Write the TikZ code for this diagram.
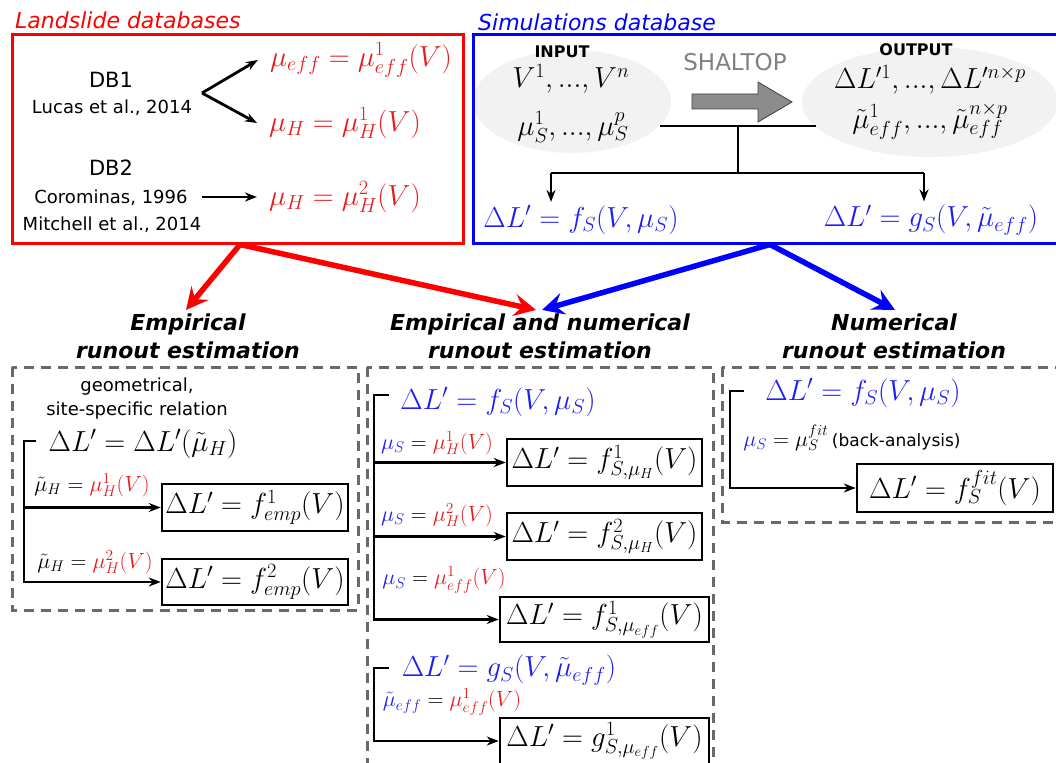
\RequirePackage{fix-cm}
\documentclass[tikz,border=0pt]{standalone}
\usepackage{fontspec}
\newfontfamily\dv{DejaVu Sans}
\usetikzlibrary{arrows.meta}
\definecolor{tred}{RGB}{235,25,25}
\definecolor{tblue}{RGB}{30,30,245}
\definecolor{dgray}{RGB}{105,105,105}
\definecolor{egray}{RGB}{242,242,242}
\definecolor{agray}{RGB}{140,140,140}
\definecolor{sgray}{RGB}{128,128,128}
\begin{document}
\begin{tikzpicture}[x=1pt,y=-1pt,
  sans/.style={font=\dv\fontsize{18}{24}\selectfont},
  dbname/.style={font=\dv\fontsize{21}{24}\selectfont},
  caps/.style={font=\dv\bfseries\fontsize{16}{18}\selectfont},
  head/.style={font=\dv\bfseries\itshape\fontsize{22}{28}\selectfont, align=center},
  title/.style={font=\dv\itshape\fontsize{22}{26}\selectfont, anchor=base west, inner sep=0pt},
  big/.style={font=\fontsize{29}{32}\selectfont},
  small/.style={font=\fontsize{22}{26}\selectfont},
  eqbox/.style={draw, line width=2.5pt, big, inner sep=0pt},
  conn/.style={line width=2.8pt, -{Stealth[length=12pt,width=9pt]}},
  brack/.style={line width=2.8pt},
  fat/.style={line width=5.5pt, -{Stealth[length=22pt,width=22pt,inset=8pt]}},
  dbox/.style={draw=dgray, line width=3pt, dash pattern=on 10pt off 7pt},
]
\useasboundingbox (0,0) rectangle (1056,762);

% ---------- grey ellipses ----------
\fill[egray] (572,101.5) ellipse [x radius=99, y radius=51.5];
\fill[egray] (930,102) ellipse [x radius=128, y radius=55];

% ---------- database frames ----------
\node[draw=red, line width=3pt, minimum width=451pt, minimum height=208pt, inner sep=0pt] (ldb) at (237.5,139) {};
\node[draw=blue, line width=3pt, minimum width=590pt, minimum height=208pt, inner sep=0pt] (sdb) at (768,139) {};
\node[title, text=red] (ltitle) at (15,29) {Landslide databases};
\node[title, text=blue] (stitle) at (478,31) {Simulations database};

% ---------- landslide database content ----------
\node[dbname, inner sep=1pt] (db1) at (111,80) {DB1};
\node[sans, inner sep=1pt] (lucas) at (112,108) {Lucas et al., 2014};
\node[dbname, inner sep=1pt] (db2) at (111,168) {DB2};
\node[sans, inner sep=1pt] (coro) at (111,198) {Corominas, 1996};
\node[sans, inner sep=1pt] (mitch) at (112,225) {Mitchell et al., 2014};
\node[big, text=tred, inner xsep=12pt, inner ysep=1pt] (mueff) at (361,60) {$\mu_{eff}=\mu^1_{eff}(V)$};
\node[big, text=tred, inner xsep=12pt, inner ysep=1pt] (muh1) at (345,123) {$\mu_H=\mu^1_H(V)$};
\node[big, text=tred, inner xsep=12pt, inner ysep=1pt] (muh2) at (345,197) {$\mu_H=\mu^2_H(V)$};
\coordinate (fork) at (202,93);
\coordinate (corostart) at (202,197);
\draw[conn] (fork) -- (mueff.west);
\draw[conn] (fork) -- (muh1.west);
\draw[conn] (corostart) -- (muh2.west);

% ---------- simulation database content ----------
\node[caps, inner sep=1pt] (inp) at (562,52) {INPUT};
\node[big, inner sep=1pt] (vin) at (571,79) {$V^1,...,V^n$};
\node[big, inner sep=1pt] (muin) at (573,127) {$\mu^1_S,...,\mu^p_S$};
\node[font=\dv\fontsize{23}{26}\selectfont, text=sgray] (shaltop) at (735,62) {SHALTOP};
\draw[fill=agray, draw=black!75, line width=0.8pt] (692,94) -- (758,94) -- (758,82) -- (792,102) -- (758,122) -- (758,109) -- (692,109) -- cycle;
\node[caps, inner sep=1pt] (outp) at (916,50) {OUTPUT};
\node[big, inner sep=1pt] (dlout) at (930,80) {$\Delta L^{\prime 1},...,\Delta L^{\prime n\times p}$};
\node[big, inner sep=1pt] (muout) at (930,121) {$\tilde\mu^1_{eff},...,\tilde\mu^{n\times p}_{eff}$};
\node[big, text=tblue] (fst) at (581,220) {$\Delta L'=f_S(V,\mu_S)$};
\node[big, text=tblue] (gst) at (931,220) {$\Delta L'=g_S(V,\tilde\mu_{eff})$};
\coordinate (hl) at (660,126);
\coordinate (hr) at (816,126);
\coordinate (jn) at (738,126);
\coordinate (jb) at (738,173);
\coordinate (la) at (551,173);
\coordinate (ra) at (924,173);
\draw[brack] (hl) -- (hr);
\draw[brack] (jn) -- (jb);
\draw[brack] (la) -- (ra);
\draw[conn] (la) -- (la |- fst.north);
\draw[conn] (ra) -- (ra |- gst.north);

% ---------- headings ----------
\node[head] (h1) at (188,336) {Empirical\\runout estimation};
\node[head] (h2) at (540,336) {Empirical and numerical\\runout estimation};
\node[head] (h3) at (894,336) {Numerical\\runout estimation};
\draw[fat, red] ([xshift=2.5pt]ldb.south) -- ([xshift=-2pt]h1.north);
\draw[fat, red] ([xshift=2.5pt]ldb.south) -- ([xshift=-4pt]h2.north);
\draw[fat, blue] ([xshift=2pt]sdb.south) -- ([xshift=2pt]h2.north);
\draw[fat, blue] ([xshift=2pt]sdb.south) -- ([xshift=1pt]h3.north);

% ---------- dashed frames ----------
\draw[dbox] (12,367) rectangle (358,610);
\draw[dbox] (367,367) rectangle (713,780);
\draw[dbox] (722,367) rectangle (1070,522);

% ---------- empirical ----------
\node[sans, align=center, inner sep=1pt] (geo) at (137,399) {geometrical,\\site-specific relation};
\node[big, inner sep=1pt] (dlh) at (143,444) {$\Delta L'=\Delta L'(\tilde\mu_H)$};
\node[eqbox, minimum width=186pt, minimum height=47pt] (e1) at (255,507.5) {$\Delta L'=f^1_{emp}(V)$};
\node[eqbox, minimum width=186pt, minimum height=46pt] (e2) at (255,582) {$\Delta L'=f^2_{emp}(V)$};
\node[small, inner sep=1pt] (el1) at (92,485) {$\tilde\mu_H={\color{tred}\mu^1_H(V)}$};
\node[small, inner sep=1pt] (el2) at (95,562) {$\tilde\mu_H={\color{tred}\mu^2_H(V)}$};
\coordinate (et) at (36,441);
\coordinate (ec) at (24,441);
\draw[conn] (et) -- (ec) |- (e2.west);
\draw[conn] (ec |- e1.west) -- (e1.west);

% ---------- empirical and numerical ----------
\node[big, text=tblue, inner sep=1pt] (mfs) at (498,402) {$\Delta L'=f_S(V,\mu_S)$};
\node[eqbox, minimum width=195pt, minimum height=47pt] (m1) at (604.5,462.5) {$\Delta L'=f^1_{S,\mu_H}(V)$};
\node[eqbox, minimum width=195pt, minimum height=47pt] (m2) at (604.5,536.5) {$\Delta L'=f^2_{S,\mu_H}(V)$};
\node[eqbox, minimum width=209pt, minimum height=45pt] (m3) at (604.5,619.5) {$\Delta L'=f^1_{S,\mu_{eff}}(V)$};
\node[small, inner sep=1pt] (ml1) at (437,443) {${\color{tblue}\mu_S}={\color{tred}\mu^1_H(V)}$};
\node[small, inner sep=1pt] (ml2) at (437,515) {${\color{tblue}\mu_S}={\color{tred}\mu^2_H(V)}$};
\node[small, inner sep=1pt] (ml3) at (444,580) {${\color{tblue}\mu_S}={\color{tred}\mu^1_{eff}(V)}$};
\coordinate (mt) at (389,395);
\coordinate (mc) at (374,395);
\draw[conn] (mt) -- (mc) |- (m3.west);
\draw[conn] (mc |- m1.west) -- (m1.west);
\draw[conn] (mc |- m2.west) -- (m2.west);

\node[big, text=tblue, inner sep=1pt] (mgs) at (509,670) {$\Delta L'=g_S(V,\tilde\mu_{eff})$};
\node[small, inner sep=1pt] (ml4) at (452,702) {${\color{tblue}\tilde\mu_{eff}}={\color{tred}\mu^1_{eff}(V)}$};
\node[eqbox, minimum width=209pt, minimum height=46pt] (m4) at (604.5,741) {$\Delta L'=g^1_{S,\mu_{eff}}(V)$};
\coordinate (gt) at (389,668);
\coordinate (gc) at (374,668);
\draw[conn] (gt) -- (gc) |- (m4.west);

% ---------- numerical ----------
\node[big, text=tblue, inner sep=1pt] (rfs) at (863,393) {$\Delta L'=f_S(V,\mu_S)$};
\node[small, inner sep=1pt] (rl) at (852,438) {${\color{tblue}\mu_S}=\mu^{fit}_S$\,{\dv\fontsize{17}{20}\selectfont (back-analysis)}};
\node[eqbox, minimum width=196pt, minimum height=48pt] (rb) at (955,488) {$\Delta L'=f^{fit}_S(V)$};
\coordinate (rt) at (744,391);
\coordinate (rc) at (730,391);
\draw[conn] (rt) -- (rc) |- (rb.west);
\end{tikzpicture}
\end{document}
